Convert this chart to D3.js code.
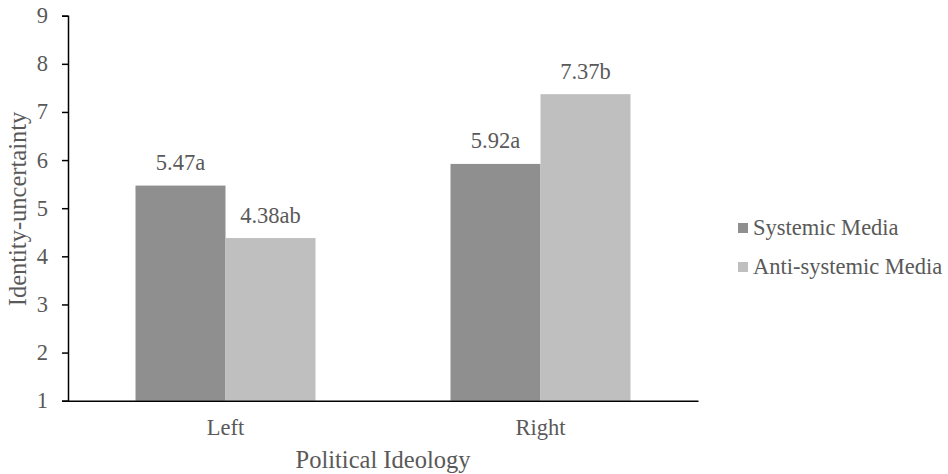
<!DOCTYPE html>
<html><head><meta charset="utf-8">
<script src="https://cdn.jsdelivr.net/npm/d3@7"></script>
<style>
body{margin:0;background:#fff}
svg{display:block}
svg text{font-family:'Liberation Serif','Tinos','Times New Roman',serif !important;}
</style>
</head><body>
<svg id="c" width="948" height="474" style="font-family:'Liberation Serif',serif"></svg>
<script>
const categories = ["Left", "Right"];
const seriesNames = ["Systemic Media", "Anti-systemic Media"];
const systemic = [5.47, 5.92];
const antiSystemic = [4.38, 7.37];
const labelsSystemic = ["5.47a", "5.92a"];
const labelsAnti = ["4.38ab", "7.37b"];
const yTicks = [1,2,3,4,5,6,7,8,9];
const colors = ["#8f8f8f", "#bfbfbf"];

const TXT = "#595959";
const FAM = "'Liberation Serif', 'Tinos', 'Times New Roman', serif";
const svg = d3.select("#c");
const xLeft = 68, xRight = 698;
const x0 = d3.scaleBand().domain(categories).range([xLeft, xRight]).paddingInner(0.4286).paddingOuter(0.2143);
const x1 = d3.scaleBand().domain(seriesNames).range([0, x0.bandwidth()]);
const y = d3.scaleLinear().domain([1, 9]).range([400.7, 15.7]);

function txt(size) {
  return svg.append("text").attr("fill", TXT).attr("font-family", FAM).attr("font-size", size)
    .style("font-family", FAM).style("font-size", size + "px").style("font-weight", "normal");
}

// bars
categories.forEach((c, i) => {
  const vals = [
    {s: seriesNames[0], v: systemic[i], l: labelsSystemic[i], col: colors[0]},
    {s: seriesNames[1], v: antiSystemic[i], l: labelsAnti[i], col: colors[1]}];
  vals.forEach(d => {
    svg.append("rect").attr("x", x0(c) + x1(d.s)).attr("width", x1.bandwidth())
      .attr("y", y(d.v)).attr("height", y(1) - y(d.v)).attr("fill", d.col);
  });
});
// bar labels
categories.forEach((c, i) => {
  [[seriesNames[0], systemic[i], labelsSystemic[i]], [seriesNames[1], antiSystemic[i], labelsAnti[i]]]
    .forEach(([s, v, l]) => {
      txt(22.5).attr("x", x0(c) + x1(s) + x1.bandwidth()/2).attr("y", y(v) - 15.5)
        .attr("text-anchor", "middle").text(l);
    });
});

// axes lines via d3.axis (labels drawn separately as direct svg text)
const yAxis = svg.append("g").attr("transform", `translate(${xLeft},0)`)
  .call(d3.axisLeft(y).tickValues(yTicks).tickFormat(() => "").tickSize(6));
yAxis.select(".domain").attr("stroke","#000").attr("stroke-width",1.5);
yAxis.selectAll(".tick line").attr("stroke","#000").attr("stroke-width",1.5);
yAxis.selectAll(".tick text").remove();
yTicks.forEach(t => {
  txt(22.5).attr("x", xLeft - 20).attr("y", y(t)).attr("dy", "0.33em").attr("text-anchor", "end").text(d3.format("d")(t));
});

const xAxis = svg.append("g").attr("transform", `translate(0,${y(1)})`)
  .call(d3.axisBottom(x0).tickSize(0).tickFormat(() => "").tickSizeOuter(0));
xAxis.select(".domain").attr("stroke","#000").attr("stroke-width",1.5);
xAxis.selectAll(".tick text").remove();
categories.forEach(c => {
  txt(22.5).attr("x", x0(c) + x0.bandwidth()/2).attr("y", y(1) + 34).attr("text-anchor", "middle").text(c);
});

txt(24.5).attr("x", 383).attr("y", 468).attr("text-anchor","middle").text("Political Ideology");
txt(24.5).attr("transform", `translate(26,209) rotate(-90)`).attr("text-anchor","middle").text("Identity-uncertainty");

// legend
seriesNames.forEach((s, i) => {
  const cy = 228 + i * 39;
  svg.append("rect").attr("x", 738).attr("y", cy - 5).attr("width", 10).attr("height", 10).attr("fill", colors[i]);
  txt(22.5).attr("x", 753).attr("y", cy + 7).text(s);
});
</script>
</body></html>
